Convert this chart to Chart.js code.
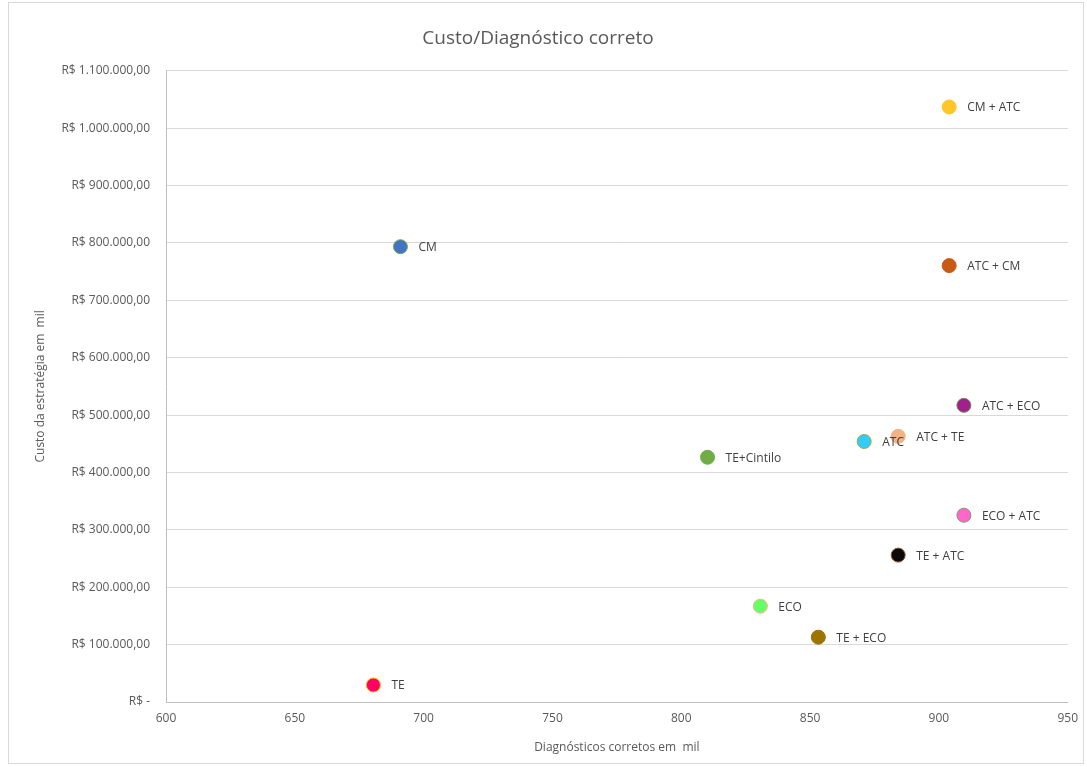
<!DOCTYPE html>
<html>
<head>
<meta charset="utf-8">
<script src="https://cdn.jsdelivr.net/npm/chart.js@4.4.1/dist/chart.umd.min.js"></script>
<style>
  html, body { margin: 0; padding: 0; background: #fff; }
  #wrap { width: 1087px; height: 767px; }
</style>
</head>
<body>
<div id="wrap"><canvas id="grafico"></canvas></div>
<script>
// Dados
const estrategias = ["CM + ATC", "CM", "ATC + CM", "ATC + ECO", "ATC + TE", "ATC", "TE+Cintilo", "ECO + ATC", "TE + ATC", "ECO", "TE + ECO", "TE"];
const diagnosticos = [904, 691, 904, 909.7, 884.2, 871, 810.2, 909.7, 884.2, 830.7, 853.2, 680.5];
const custos = [1037000, 793500, 760500, 517000, 463000, 454000, 426500, 325500, 256000, 167000, 113000, 29600];
const coresPonto = ["#FFC62A", "#4472C4", "#C85A14", "#A0208E", "#F4B183", "#33CCFF", "#70AD47", "#FF66CC", "#0A0A0A", "#66FF66", "#9C7400", "#FF0066"];
const coresBorda = ["#FFC62A", "#70AD47", "#C85A14", "#6E8F46", "#F4B183", "#A5A53A", "#70AD47", "#7F9A6A", "#8B5A2B", "#F4B183", "#9C7400", "#FFB000"];

const fonte = "Open Sans, 'Noto Sans', sans-serif";

// Cada estratégia é um dataset com a sua cor
const datasets = estrategias.map((nome, i) => ({
  label: nome,
  data: [{ x: diagnosticos[i], y: custos[i] }],
  backgroundColor: coresPonto[i],
  borderColor: coresBorda[i],
  borderWidth: 1,
  pointRadius: 7,
  pointHoverRadius: 7
}));

// Formato R$ 1.100.000,00
function formatarReal(valor) {
  if (valor === 0) return "R$ -";
  const partes = Math.round(valor).toString().replace(/\B(?=(\d{3})+(?!\d))/g, ".");
  return "R$ " + partes + ",00";
}

// Rótulos à direita de cada ponto
const rotulosPlugin = {
  id: "rotulos",
  afterDatasetsDraw(chart) {
    const ctx = chart.ctx;
    ctx.save();
    ctx.font = "12px " + fonte;
    ctx.fillStyle = "#404040";
    ctx.textAlign = "left";
    ctx.textBaseline = "middle";
    chart.data.datasets.forEach((ds, i) => {
      const p = chart.getDatasetMeta(i).data[0];
      ctx.fillText(ds.label, p.x + 18, p.y + 1);
    });
    ctx.restore();
  }
};

// Moldura do gráfico
const molduraPlugin = {
  id: "moldura",
  beforeDraw(chart) {
    const ctx = chart.ctx;
    ctx.save();
    ctx.strokeStyle = "#D9D9D9";
    ctx.lineWidth = 1;
    ctx.strokeRect(8.5, 2.5, chart.width - 12, chart.height - 6);
    ctx.restore();
  }
};

new Chart(document.getElementById("grafico"), {
  type: "scatter",
  data: { datasets: datasets },
  plugins: [rotulosPlugin, molduraPlugin],
  options: {
    responsive: true,
    maintainAspectRatio: false,
    animation: false,
    layout: { padding: { top: 0, right: 11, bottom: 0, left: 0 } },
    plugins: {
      legend: { display: false },
      tooltip: { enabled: false },
      title: {
        display: true,
        text: "Custo/Diagnóstico correto",
        color: "#595959",
        font: { family: fonte, size: 19, weight: "normal" },
        padding: { top: 27, bottom: 21 }
      }
    },
    scales: {
      x: {
        type: "linear",
        min: 600,
        max: 950,
        ticks: {
          stepSize: 50,
          color: "#595959",
          font: { family: fonte, size: 12 },
          padding: 9
        },
        grid: { display: false, drawTicks: false },
        border: { display: true, color: "#BFBFBF" },
        title: {
          display: true,
          text: "Diagnósticos corretos em  mil",
          color: "#595959",
          font: { family: fonte, size: 12 },
          padding: { top: 4, bottom: 12 }
        },
        afterFit(scale) { scale.height = 65; }
      },
      y: {
        type: "linear",
        min: 0,
        max: 1100000,
        ticks: {
          stepSize: 100000,
          color: "#595959",
          font: { family: fonte, size: 12 },
          padding: 16,
          callback: (v) => formatarReal(v)
        },
        grid: { color: "#D9D9D9", drawTicks: false },
        border: { display: true, color: "#BFBFBF" },
        title: {
          display: true,
          text: "Custo da estratégia em  mil",
          color: "#595959",
          font: { family: fonte, size: 12 },
          padding: { top: 33, bottom: 0 }
        },
        afterFit(scale) { scale.width = 166; }
      }
    }
  }
});
</script>
</body>
</html>
